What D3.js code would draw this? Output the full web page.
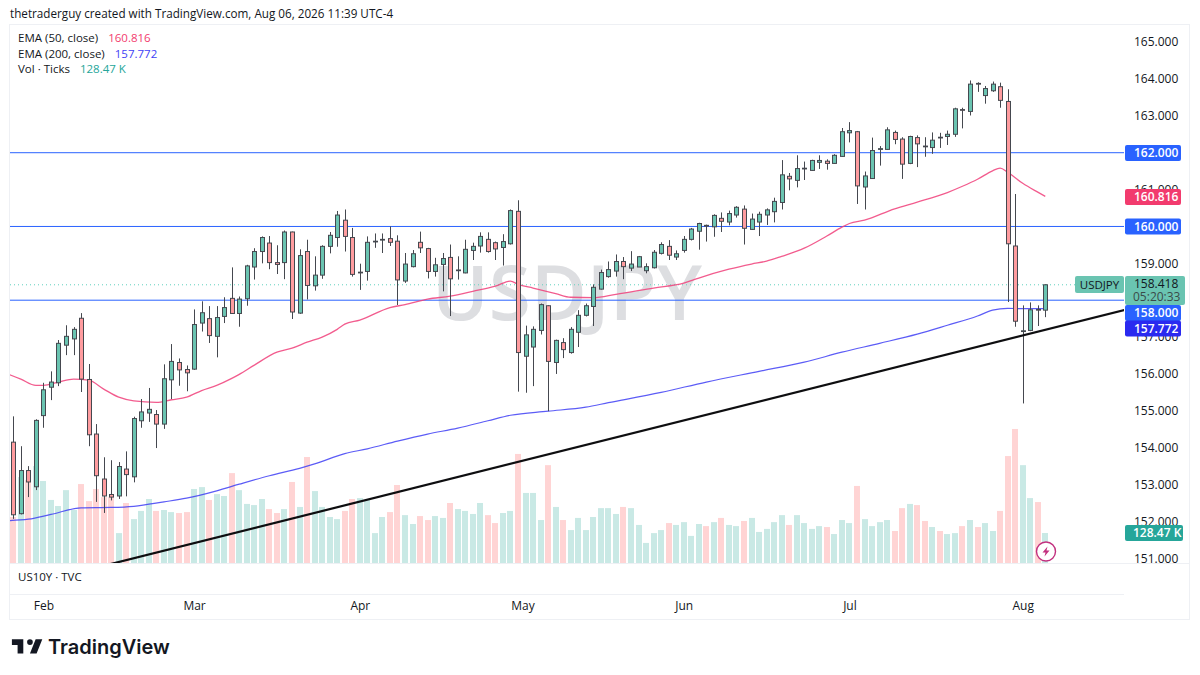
<!DOCTYPE html>
<html>
<head>
<meta charset="utf-8">
<script src="https://cdn.jsdelivr.net/npm/d3@7"></script>
<style>
  html, body { margin: 0; padding: 0; background: #fff; }
  svg { display: block; }
  text { font-family: "Open Sans", sans-serif; fill: #131722; }
</style>
</head>
<body>
<div id="chart"></div>
<script>
// USDJPY daily candles (bar index = position in arrays)
const opens = [154.15,152.21,153.38,152.94,154.87,155.64,155.76,156.78,156.95,157.51,155.85,154.37,153.15,152.73,152.69,153.42,153.21,154.73,154.94,154.90,154.64,155.84,156.31,156.12,156.13,157.38,157.50,157.02,157.56,158.05,157.64,158.04,158.90,159.32,159.55,159.02,159.02,159.85,157.65,159.32,158.39,158.68,159.46,159.70,160.17,159.70,158.74,158.78,159.58,159.63,159.67,159.60,158.52,158.91,159.57,159.40,158.78,158.97,159.16,158.80,158.74,159.35,159.47,159.65,159.56,159.43,159.53,160.41,156.48,156.73,157.18,157.85,156.31,156.85,156.58,157.13,157.59,157.83,158.30,158.64,158.79,159.05,158.87,158.90,158.80,158.88,159.27,159.46,159.17,159.35,159.65,159.87,160.03,159.99,160.22,160.12,160.31,160.47,159.92,160.12,160.31,160.40,160.65,161.36,161.25,161.56,161.52,161.74,161.77,161.71,161.90,162.54,162.57,161.07,161.30,162.09,162.09,162.55,162.37,161.71,162.41,162.18,162.14,162.42,162.44,162.50,163.17,163.12,163.88,163.55,163.68,163.79,163.39,159.47,157.15,157.18,157.75,157.73];
const highs = [154.85,154.04,153.50,154.77,155.76,156.07,156.92,157.32,157.27,157.65,156.27,154.64,153.74,153.66,153.61,153.90,154.84,155.32,155.62,155.02,156.26,156.81,156.42,156.23,157.75,157.97,157.84,157.84,158.08,158.89,158.10,158.96,159.41,159.73,159.74,159.49,159.89,159.86,159.38,159.64,159.19,159.49,159.85,160.42,160.46,159.96,158.99,159.73,159.81,159.81,160.00,159.76,159.28,159.36,159.86,159.42,159.15,159.28,159.51,159.19,159.64,159.56,159.84,159.84,159.59,159.79,160.46,160.71,157.31,157.29,157.91,157.86,156.93,156.97,157.27,157.73,157.91,158.43,158.83,159.05,159.24,159.17,159.33,159.20,159.00,159.36,159.57,159.63,159.35,159.74,159.96,160.10,160.05,160.33,160.38,160.43,160.55,160.57,160.35,160.40,160.49,160.78,161.80,161.45,161.93,161.76,161.81,161.93,161.82,161.96,162.67,162.83,162.59,161.49,162.41,162.18,162.69,162.60,162.42,162.46,162.47,162.42,162.55,162.54,162.60,163.22,163.22,163.96,163.91,163.81,163.93,163.90,163.72,160.88,157.86,157.94,157.86,158.43];
const lows = [152.07,152.19,152.66,152.85,154.54,155.29,155.67,156.51,156.51,155.51,154.04,152.53,152.23,152.57,152.61,152.68,153.06,154.54,154.70,153.99,154.51,155.32,155.68,155.53,156.11,157.15,156.84,156.45,157.38,157.63,157.28,157.85,158.56,159.00,158.84,158.71,158.57,157.49,157.63,158.02,158.26,158.58,159.27,159.45,159.32,158.64,158.28,158.53,159.42,159.28,159.47,157.87,158.47,158.89,159.28,158.59,158.64,158.24,157.57,158.56,158.73,159.09,159.29,159.29,159.09,158.94,159.51,155.52,155.49,155.67,157.07,154.99,156.00,156.43,156.55,156.73,157.56,157.30,158.29,158.61,158.64,158.57,158.79,158.90,158.73,158.86,159.24,159.09,159.09,159.29,159.62,159.37,159.59,159.72,159.85,160.03,160.24,159.51,159.91,159.74,160.04,160.11,160.46,160.98,161.06,161.26,161.51,161.56,161.54,161.70,161.89,162.28,160.61,160.46,161.29,161.65,162.08,162.23,161.29,161.69,161.61,161.89,161.97,162.13,162.21,162.43,162.66,163.01,163.65,163.33,163.65,163.22,157.95,157.28,155.20,157.16,157.30,157.54];
const closes = [152.18,153.38,153.07,154.74,155.57,155.78,156.83,157.02,157.21,155.86,154.35,153.24,152.69,152.66,153.49,153.27,154.79,154.97,155.04,154.64,155.87,156.34,156.11,156.03,157.34,157.66,157.04,157.53,157.80,157.64,158.03,158.93,159.32,159.70,159.02,158.97,159.85,157.68,159.21,158.40,158.68,159.46,159.76,160.31,159.73,158.70,158.76,159.57,159.60,159.65,159.57,158.55,158.98,159.26,159.42,158.78,158.96,159.13,158.58,158.82,159.38,159.46,159.73,159.32,159.39,159.59,160.43,156.58,157.06,157.21,157.88,156.34,156.91,156.66,157.21,157.59,157.85,158.35,158.75,158.83,159.05,158.91,158.98,159.18,158.91,159.30,159.51,159.22,159.26,159.65,159.93,160.08,160.01,160.30,160.14,160.35,160.52,159.95,160.20,160.33,160.45,160.68,161.40,161.29,161.57,161.58,161.79,161.79,161.71,161.93,162.57,162.60,161.10,161.37,162.06,162.11,162.62,162.36,161.69,162.44,162.24,162.16,162.34,162.40,162.50,163.19,163.15,163.86,163.86,163.74,163.86,163.42,159.53,157.43,157.17,157.74,157.73,158.418];
// tick volume, thousands
const volumes = [197,368,355,415,351,270,244,312,227,338,265,317,282,282,128,257,188,223,274,223,227,218,214,218,317,325,270,295,287,385,312,253,248,274,231,214,231,347,240,454,308,240,197,188,223,274,278,270,128,197,218,334,205,167,201,184,201,193,257,231,223,210,257,205,171,214,223,467,300,300,184,419,240,184,141,193,141,197,235,235,210,240,235,163,86,128,141,171,163,175,116,167,158,175,193,163,158,180,193,133,146,175,205,163,205,171,146,158,154,124,184,171,330,188,158,175,184,137,235,253,248,180,154,137,124,128,158,184,154,171,137,223,458,574,419,278,261,128.47];

// EMAs, read at a set of bars along each line
const ema50Bars = [-1,1,3,4,6,8,10,12,14,16,19,21,23,25,27,29,30,32,35,37,39,41,43,44,46,50,52,55,58,61,64,66,67,69,72,74,77,80,85,89,91,95,98,100,102,105,108,110,111,113,117,120,124,126,128,130,131,132,134,136,137];
const ema50Vals = [156.02,155.86,155.69,155.69,155.78,155.86,155.83,155.59,155.37,155.27,155.23,155.30,155.37,155.55,155.69,155.88,155.99,156.24,156.59,156.70,156.86,157.00,157.21,157.35,157.46,157.80,157.88,158.03,158.11,158.24,158.38,158.52,158.43,158.33,158.18,158.08,158.07,158.16,158.33,158.46,158.60,158.84,158.98,159.06,159.19,159.41,159.74,159.98,160.08,160.17,160.48,160.66,160.92,161.09,161.28,161.51,161.58,161.47,161.17,160.93,160.816];
const ema200Bars = [-1,2,5,9,13,16,20,23,27,30,34,38,40,44,47,51,55,59,63,66,71,76,79,86,92,99,105,110,115,120,124,128,130,132,134,137];
const ema200Vals = [152.02,152.06,152.19,152.37,152.38,152.41,152.53,152.63,152.83,153.01,153.24,153.44,153.56,153.84,153.97,154.18,154.37,154.53,154.73,154.88,154.99,155.10,155.22,155.50,155.78,156.07,156.32,156.59,156.83,157.08,157.32,157.57,157.73,157.78,157.77,157.772];

const levels = [162, 160, 158];
const trendBars = [12.83, 147.6];
const trendVals = [150.84, 157.74];
const lastPrice = 158.418;

const priceTicks = [165,164,163,162,161,160,159,158,157,156,155,154,153,152,151];
const monthLabels = ['Feb','Mar','Apr','May','Jun','Jul','Aug'];
const monthBars = [4, 24, 46, 67.6, 89, 111, 134];

const upFill = '#6AC4B1', downFill = '#FF9C9F', border = '#45484F';
const upVol = '#C9E9E5', downVol = '#FFD4D4';
const blue = '#2962FF', emaPink = '#F0407A', emaBlue = '#3F3FF5';

const W = 1200, H = 675;
const plot = { left: 10, right: 1124, top: 25, bottom: 563 };

const svg = d3.select('#chart').append('svg').attr('width', W).attr('height', H);

const x = d3.scaleLinear().domain([0, 137]).range([13.3, 1045.3]);
const y = d3.scaleLinear().domain([165, 151]).range([42.1, 558.3]);
const yVol = d3.scaleLinear().domain([0, 128.47]).range([563, 533]);

svg.append('defs').append('clipPath').attr('id', 'plot-clip')
  .append('rect')
  .attr('x', plot.left).attr('y', plot.top)
  .attr('width', plot.right - plot.left).attr('height', plot.bottom - plot.top);

// ── Frame ────────────────────────────────────────────────────────
const frame = '#EEF0F4';
svg.append('rect').attr('x', 9.5).attr('y', 24.5).attr('width', 1180).attr('height', 595)
  .attr('fill', 'none').attr('stroke', frame);
svg.append('line').attr('x1', 10).attr('x2', 1190).attr('y1', 563.5).attr('y2', 563.5).attr('stroke', frame);
svg.append('line').attr('x1', 10).attr('x2', 1124).attr('y1', 594.5).attr('y2', 594.5).attr('stroke', frame);

const g = svg.append('g').attr('clip-path', 'url(#plot-clip)');

// ── Watermark ────────────────────────────────────────────────────
g.append('text')
  .attr('x', 567).attr('y', 320)
  .attr('text-anchor', 'middle')
  .attr('font-size', 76.5)
  .attr('font-weight', 600)
  .style('fill', '#787B86').style('fill-opacity', 0.25)
  .text('USDJPY');

// ── Volume ───────────────────────────────────────────────────────
const barW = 6;
g.selectAll('.vol')
  .data(volumes)
  .enter()
  .append('rect')
  .attr('class', 'vol')
  .attr('x', (d, i) => Math.round(x(i) - barW / 2))
  .attr('y', d => yVol(d))
  .attr('width', barW)
  .attr('height', d => yVol(0) - yVol(d))
  .attr('fill', (d, i) => closes[i] >= opens[i] ? upVol : downVol);

// ── Levels + EMAs ────────────────────────────────────────────────
g.selectAll('.level')
  .data(levels)
  .enter()
  .append('line')
  .attr('class', 'level')
  .attr('x1', plot.left).attr('x2', plot.right)
  .attr('y1', d => y(d)).attr('y2', d => y(d))
  .attr('stroke', blue).attr('stroke-width', 1);

g.append('line')
  .attr('x1', plot.left).attr('x2', 1075)
  .attr('y1', y(lastPrice)).attr('y2', y(lastPrice))
  .attr('stroke', '#5FD0BE').attr('stroke-width', 1).attr('stroke-dasharray', '1 3');

const line = d3.line().x(d => x(d[0])).y(d => y(d[1])).curve(d3.curveMonotoneX);
g.append('path')
  .attr('d', line(d3.zip(ema50Bars, ema50Vals)))
  .attr('fill', 'none').attr('stroke', emaPink).attr('stroke-width', 1.3).attr('stroke-opacity', 0.85);
g.append('path')
  .attr('d', line(d3.zip(ema200Bars, ema200Vals)))
  .attr('fill', 'none').attr('stroke', emaBlue).attr('stroke-width', 1.2).attr('stroke-opacity', 0.85);

// ── Candles ──────────────────────────────────────────────────────
const bars = opens.map((o, i) => ({ i, o, h: highs[i], l: lows[i], c: closes[i] }));
const px = d => Math.round(x(d.i)) + 0.5;

g.selectAll('.wick')
  .data(bars)
  .enter()
  .append('line')
  .attr('class', 'wick')
  .attr('x1', px).attr('x2', px)
  .attr('y1', d => y(d.h)).attr('y2', d => y(d.l))
  .attr('stroke', border).attr('stroke-width', 1);

g.selectAll('.body')
  .data(bars)
  .enter()
  .append('rect')
  .attr('class', 'body')
  .attr('x', d => px(d) - 2)
  .attr('y', d => y(Math.max(d.o, d.c)))
  .attr('width', 4)
  .attr('height', d => Math.abs(y(d.o) - y(d.c)))
  .attr('fill', d => d.c >= d.o ? upFill : downFill)
  .attr('stroke', border).attr('stroke-width', 1);

// ── Trend line ───────────────────────────────────────────────────
g.append('path')
  .attr('d', d3.line().x(d => x(d[0])).y(d => y(d[1]))(d3.zip(trendBars, trendVals)))
  .attr('fill', 'none').attr('stroke', '#0E0E10').attr('stroke-width', 2.2);

// ── Price axis ───────────────────────────────────────────────────
const yAxis = d3.axisRight(y).tickValues(priceTicks).tickFormat(d3.format('.3f')).tickSize(0).tickPadding(10);
const yG = svg.append('g').attr('transform', `translate(${plot.right},0)`).call(yAxis);
yG.select('.domain').remove();
yG.selectAll('text').attr('font-size', 12).style('font-family', '"Open Sans", sans-serif').style('fill', '#131722');

// labels on the price axis
function priceTag(price, fill, cy, h) {
  svg.append('rect').attr('x', 1125).attr('y', cy - h / 2).attr('width', 56).attr('height', h).attr('rx', 2).attr('fill', fill);
  svg.append('text').attr('x', 1134).attr('y', cy + 4.3).attr('font-size', 12).attr('font-weight', 600)
    .style('fill', '#fff').text(d3.format('.3f')(price));
}
priceTag(162, blue, 153, 16);
priceTag(160.816, '#F23B6E', 197, 16);
priceTag(160, blue, 226.5, 16);

// last price tag + countdown, symbol tag
svg.append('rect').attr('x', 1075).attr('y', 276).attr('width', 49).attr('height', 17).attr('rx', 2).attr('fill', upFill);
svg.append('text').attr('x', 1099.5).attr('y', 288.5).attr('text-anchor', 'middle').attr('font-size', 11.5).text('USDJPY');
svg.append('rect').attr('x', 1125).attr('y', 276).attr('width', 60).attr('height', 29).attr('rx', 2).attr('fill', upFill);
svg.append('text').attr('x', 1134).attr('y', 288).attr('font-size', 12).text('158.418');
svg.append('text').attr('x', 1133).attr('y', 301).attr('font-size', 12).style('fill', '#3b4a4a').text('05:20:33');
priceTag(158, blue, 313, 16);
priceTag(157.772, '#2A2AF0', 328.5, 16);
svg.append('rect').attr('x', 1125).attr('y', 525).attr('width', 58).attr('height', 16).attr('rx', 2).attr('fill', '#26A69A');
svg.append('text').attr('x', 1133).attr('y', 537.3).attr('font-size', 12).attr('font-weight', 600).style('fill', '#fff').text('128.47 K');

// ── Time axis ────────────────────────────────────────────────────
const xAxis = d3.axisBottom(x).tickValues(monthBars).tickFormat((d, i) => monthLabels[i]).tickSize(0).tickPadding(0);
const xG = svg.append('g').attr('transform', 'translate(0,601)').call(xAxis);
xG.select('.domain').remove();
xG.selectAll('text').attr('font-size', 12).style('font-family', '"Open Sans", sans-serif').style('fill', '#131722');

// ── Header + legend ──────────────────────────────────────────────
svg.append('text').attr('x', 10).attr('y', 18).attr('font-size', 11.7).text('thetraderguy created with TradingView.com, Aug 06, 2026 11:39 UTC-4');

const legend = [
  ['EMA (50, close)', '160.816', '#F23B6E', 42],
  ['EMA (200, close)', '157.772', '#3F3FF5', 58],
  ['Vol · Ticks', '128.47 K', '#26A69A', 73]
];
legend.forEach(d => {
  const t = svg.append('text').attr('x', 18).attr('y', d[3]).attr('font-size', 11.5);
  t.append('tspan').text(d[0]);
  t.append('tspan').attr('dx', 10).style('fill', d[2]).text(d[1]);
});
svg.append('text').attr('x', 18).attr('y', 581).attr('font-size', 11.5).text('US10Y · TVC');

// ── Lightning badge ──────────────────────────────────────────────
const badge = svg.append('g').attr('transform', 'translate(1046,551.5)');
badge.append('circle').attr('r', 9.5).attr('fill', '#fff').attr('stroke', '#C2307F').attr('stroke-width', 1.4);
badge.append('path').attr('d', 'M1.5 -5 L-3.5 1 H-0.5 L-1.5 5 L3.5 -1 H0.5 Z').attr('fill', '#C2307F');

// ── Logo ─────────────────────────────────────────────────────────
svg.append('path')
  .attr('transform', 'translate(10,633.5) scale(0.95)')
  .attr('d', 'M14 6H2v6h6v9h6V6Zm14 15h-7l6-15h7l-6 15Zm-7-9a3 3 0 1 0 0-6 3 3 0 0 0 0 6Z')
  .attr('fill', '#131722');
svg.append('text').attr('x', 48).attr('y', 654).attr('font-size', 20).attr('font-weight', 600)
  .style('font-family', 'Inter, sans-serif').text('TradingView');
</script>
</body>
</html>
